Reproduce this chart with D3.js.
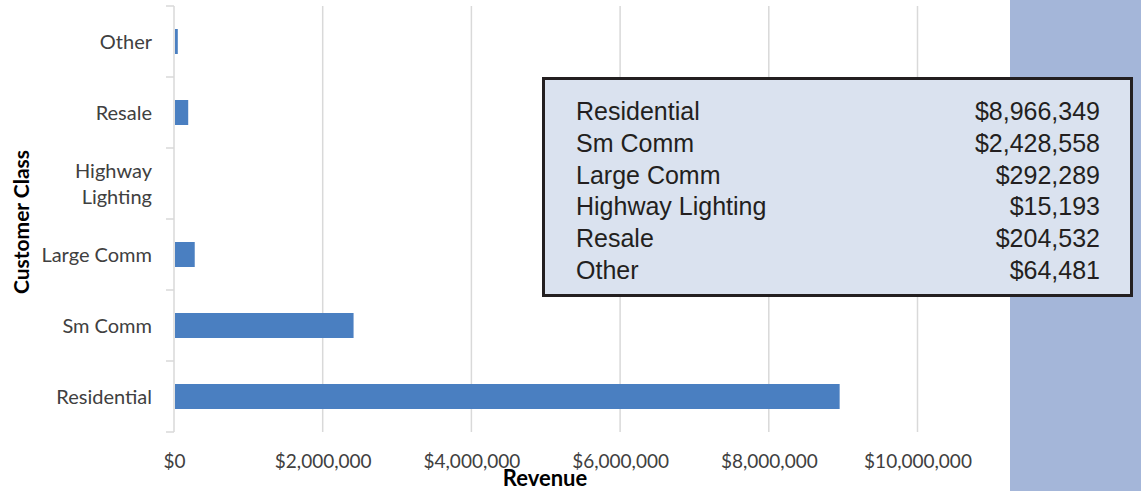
<html>
<head>
<script src="https://d3js.org/d3.v7.min.js"></script>
<style>
  body { margin: 0; background: #fff; }
  text { font-family: Lato, "Open Sans", sans-serif; }
</style>
</head>
<body>
<script>

var categories = ["Other", "Resale", "Highway Lighting", "Large Comm", "Sm Comm", "Residential"];
var revenue = [64481, 204532, 15193, 292289, 2428558, 8966349];
var tickValues = [0, 2000000, 4000000, 6000000, 8000000, 10000000];
var tableOrder = ["Residential", "Sm Comm", "Large Comm", "Highway Lighting", "Resale", "Other"];

var W = 1141, H = 491;
var svg = d3.select("body").append("svg")
            .attr("width", W)
            .attr("height", H);

// blue panel at right
svg.append("rect")
   .attr("x", 1010).attr("y", 0)
   .attr("width", W - 1010).attr("height", H)
   .attr("fill", "#a4b6d9");

var x = d3.scaleLinear()
          .domain([0, 10000000])
          .range([174, 917.5]);
var y = d3.scaleBand()
          .domain(categories)
          .range([6, 432]);

// gridlines
svg.selectAll(".grid")
   .data(tickValues.slice(1))
  .enter().append("line")
   .attr("x1", function(d) { return x(d); })
   .attr("x2", function(d) { return x(d); })
   .attr("y1", 6).attr("y2", 432)
   .attr("stroke", "#d9d9d9")
   .attr("stroke-width", 1.5);

// x axis labels
var xAxis = svg.append("g")
   .attr("transform", "translate(0,432)")
   .call(d3.axisBottom(x).tickValues(tickValues).tickSize(0).tickPadding(0)
     .tickFormat(function(d) { return "$" + d3.format(",")(d); }));
xAxis.select(".domain").remove();
xAxis.selectAll("text")
     .attr("dy", null)
     .attr("y", 35.5)
     .attr("fill", "#404040")
     .style("font-size", "19px")
     .style("font-family", "Lato, sans-serif");

// y axis line and ticks
svg.append("line")
   .attr("x1", 174).attr("x2", 174)
   .attr("y1", 6).attr("y2", 432)
   .attr("stroke", "#d9d9d9").attr("stroke-width", 1.5);
var bounds = categories.map(function(c) { return y(c); }).concat([432]);
svg.selectAll(".ytick")
   .data(bounds)
  .enter().append("line")
   .attr("x1", 166).attr("x2", 174)
   .attr("y1", function(d) { return d; })
   .attr("y2", function(d) { return d; })
   .attr("stroke", "#d9d9d9").attr("stroke-width", 1.5);

// category labels
svg.selectAll(".ylab")
   .data(categories)
  .enter().append("text")
   .attr("text-anchor", "end")
   .attr("fill", "#404040")
   .style("font-size", "20px")
   .each(function(d) {
     var t = d3.select(this);
     var cy = y(d) + y.bandwidth() / 2;
     var lines = d === "Highway Lighting" ? ["Highway", "Lighting"] : [d];
     lines.forEach(function(l, i) {
       t.append("tspan")
        .attr("x", 152)
        .attr("y", cy + 7 + (i - (lines.length - 1) / 2) * 26)
        .text(l);
     });
   });

// bars
var barH = 25;
svg.selectAll(".bar")
   .data(categories)
  .enter().append("rect")
   .attr("x", x(0) + 1)
   .attr("y", function(d) { return y(d) + y.bandwidth() / 2 - barH / 2; })
   .attr("width", function(d, i) { return Math.max(0, x(revenue[i]) - x(0) - 2); })
   .attr("height", barH)
   .attr("fill", "#4a7fc1");

// axis titles
svg.append("text")
   .attr("x", 545).attr("y", 486)
   .attr("text-anchor", "middle")
   .style("font-size", "22px").style("font-weight", "bold")
   .attr("fill", "#000")
   .text("Revenue");

svg.append("text")
   .attr("transform", "translate(29,222) rotate(-90)")
   .attr("text-anchor", "middle")
   .style("font-size", "21px").style("font-weight", "bold")
   .attr("fill", "#000")
   .text("Customer Class");

// value table box
var box = svg.append("g");
box.append("rect")
   .attr("x", 543.5).attr("y", 78.5)
   .attr("width", 588).attr("height", 217)
   .attr("fill", "#dae2ef")
   .attr("stroke", "#231f20")
   .attr("stroke-width", 3);

var rowY = d3.scalePoint()
             .domain(tableOrder)
             .range([120, 279]);
tableOrder.forEach(function(c) {
  var v = revenue[categories.indexOf(c)];
  box.append("text")
     .attr("x", 576).attr("y", rowY(c))
     .style("font-family", "'Liberation Sans', Arial, sans-serif")
     .style("font-size", "25px")
     .attr("fill", "#231f20")
     .text(c);
  box.append("text")
     .attr("x", 1100).attr("y", rowY(c))
     .attr("text-anchor", "end")
     .style("font-family", "'Liberation Sans', Arial, sans-serif")
     .style("font-size", "25px")
     .attr("fill", "#231f20")
     .text("$" + d3.format(",")(v));
});

</script>
</body>
</html>
